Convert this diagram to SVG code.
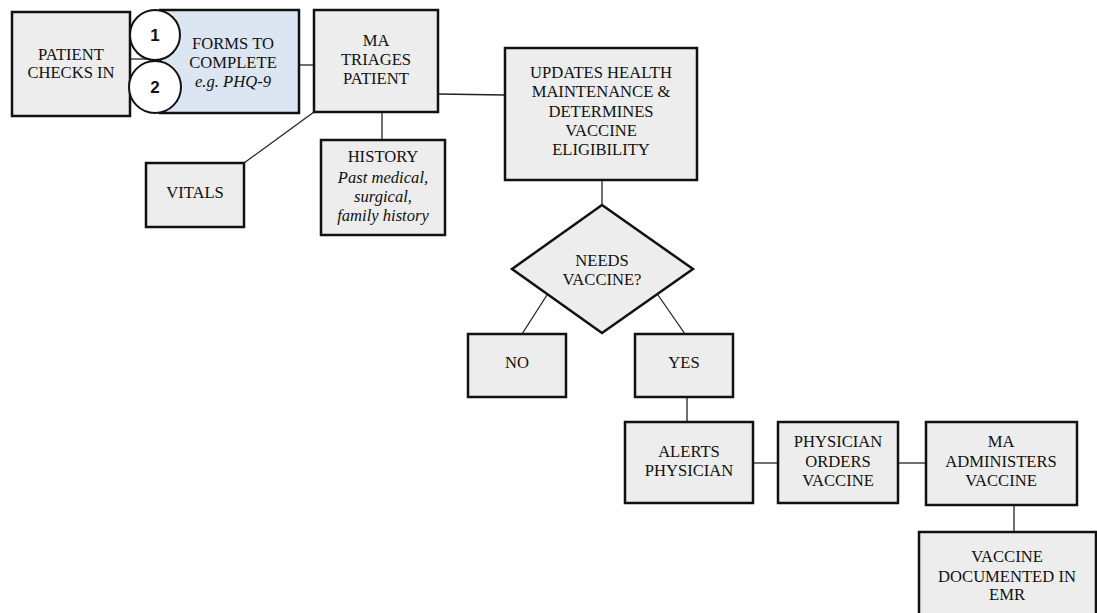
<svg xmlns="http://www.w3.org/2000/svg" width="1097" height="613" viewBox="0 0 1097 613">
<style>
.box{fill:#ededed;stroke:#111;stroke-width:2.5}
.blue{fill:#dce6f2;stroke:#111;stroke-width:2.5}
.circ{fill:#fff;stroke:#111;stroke-width:2}
.con{stroke:#222;stroke-width:1.3;fill:none}
text{font-family:"Liberation Serif","Times New Roman",serif;font-size:16.6px;fill:#111;text-anchor:middle}
.it{font-style:italic}
.num{font-family:"Liberation Sans",Arial,sans-serif;font-weight:bold;font-size:17px}
</style>
<rect width="1097" height="613" fill="#fff"/>
<g id="connectors">
<line class="con" x1="130" y1="59" x2="156" y2="59"/>
<line class="con" x1="299" y1="65" x2="314" y2="65"/>
<line class="con" x1="438" y1="94" x2="505" y2="95"/>
<line class="con" x1="382" y1="112" x2="382" y2="140"/>
<line class="con" x1="244" y1="163" x2="314" y2="112"/>
<line class="con" x1="602" y1="180" x2="602" y2="205"/>
<line class="con" x1="547" y1="295" x2="522" y2="334"/>
<line class="con" x1="658" y1="295" x2="685" y2="334"/>
<line class="con" x1="687" y1="397" x2="687" y2="422"/>
<line class="con" x1="753" y1="463" x2="778" y2="463"/>
<line class="con" x1="898" y1="463" x2="926" y2="463"/>
<line class="con" x1="1014" y1="505" x2="1014" y2="532"/>
</g>
<g id="patient-checks-in">
<rect class="box" x="12" y="12" width="118" height="104"/>
<text x="71" y="60">PATIENT</text>
<text x="71" y="78">CHECKS IN</text>
</g>
<g id="forms">
<rect class="blue" x="160" y="10" width="139" height="103"/>
<text x="233" y="49">FORMS TO</text>
<text x="233" y="68">COMPLETE</text>
<text class="it" x="233" y="87">e.g. PHQ-9</text>
</g>
<g id="circle-1">
<circle class="circ" cx="155" cy="35" r="25"/>
<text class="num" x="155" y="41">1</text>
</g>
<g id="circle-2">
<circle class="circ" cx="155" cy="87" r="26"/>
<text class="num" x="155" y="93">2</text>
</g>
<g id="ma-triages">
<rect class="box" x="314" y="10" width="124" height="102"/>
<text x="376" y="46">MA</text>
<text x="376" y="65">TRIAGES</text>
<text x="376" y="84">PATIENT</text>
</g>
<g id="vitals">
<rect class="box" x="146" y="163" width="98" height="64"/>
<text x="195" y="198">VITALS</text>
</g>
<g id="history">
<rect class="box" x="321" y="140" width="124" height="95"/>
<text x="383" y="162">HISTORY</text>
<text class="it" x="383" y="183">Past medical,</text>
<text class="it" x="383" y="202">surgical,</text>
<text class="it" x="383" y="221">family history</text>
</g>
<g id="updates">
<rect class="box" x="505" y="48" width="192" height="132"/>
<text x="601" y="78">UPDATES HEALTH</text>
<text x="601" y="97">MAINTENANCE &amp;</text>
<text x="601" y="117">DETERMINES</text>
<text x="601" y="136">VACCINE</text>
<text x="601" y="155">ELIGIBILITY</text>
</g>
<g id="needs-vaccine">
<polygon class="box" points="602,205 693,269 602,333 512,269"/>
<text x="602" y="266">NEEDS</text>
<text x="602" y="285">VACCINE?</text>
</g>
<g id="no">
<rect class="box" x="468" y="334" width="98" height="63"/>
<text x="517" y="368">NO</text>
</g>
<g id="yes">
<rect class="box" x="635" y="334" width="98" height="63"/>
<text x="684" y="368">YES</text>
</g>
<g id="alerts-physician">
<rect class="box" x="625" y="422" width="128" height="81"/>
<text x="689" y="457">ALERTS</text>
<text x="689" y="476">PHYSICIAN</text>
</g>
<g id="physician-orders">
<rect class="box" x="778" y="422" width="120" height="81"/>
<text x="838" y="447">PHYSICIAN</text>
<text x="838" y="467">ORDERS</text>
<text x="838" y="486">VACCINE</text>
</g>
<g id="ma-administers">
<rect class="box" x="926" y="422" width="151" height="83"/>
<text x="1001" y="447">MA</text>
<text x="1001" y="467">ADMINISTERS</text>
<text x="1001" y="486">VACCINE</text>
</g>
<g id="vaccine-documented">
<rect class="box" x="919" y="532" width="177" height="90"/>
<text x="1007" y="562">VACCINE</text>
<text x="1007" y="582">DOCUMENTED IN</text>
<text x="1007" y="600">EMR</text>
</g>
</svg>
